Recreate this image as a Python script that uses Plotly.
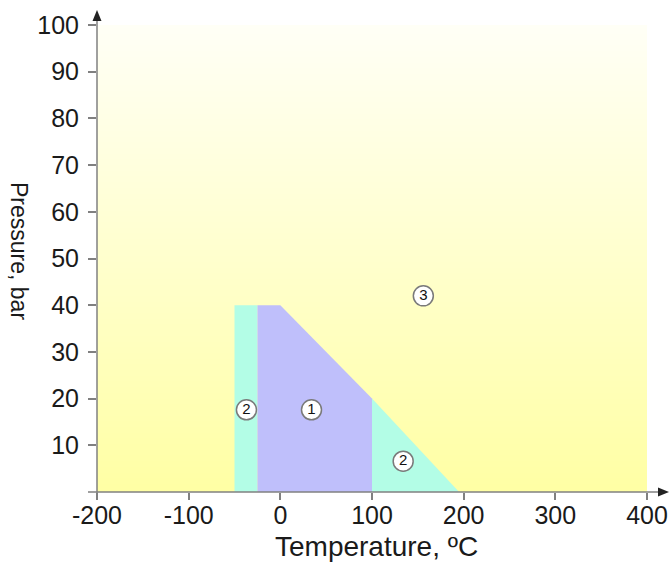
import plotly.graph_objects as go

# ---- data ----
x_ticks = [-200, -100, 0, 100, 200, 300, 400]
x_tick_labels = ["-200", "-100", "0", "100", "200", "300", "400"]
y_ticks = [10, 20, 30, 40, 50, 60, 70, 80, 90, 100]

region2_left_x = [-50, -25, -25, -50]
region2_left_y = [0, 0, 40, 40]

region1_x = [-25, 0, 100, 100, -25]
region1_y = [40, 40, 20, 0, 0]

region2_right_x = [100, 100, 195]
region2_right_y = [0, 20, 0]

label_text = ["2", "1", "2", "3"]
label_x = [-37, 34, 134, 156]
label_y = [17.6, 17.6, 6.6, 42]

x_range = [-200, 400]
y_range = [0, 100]

CYAN = "#b3fde6"
PURPLE = "#bfbffb"
AXIS = "#808080"
FONT = "Liberation Sans, Arial, sans-serif"

fig = go.Figure()

# gradient background
fig.add_trace(go.Heatmap(
    x=x_range, y=y_range, z=[[0, 0], [1, 1]],
    colorscale=[[0, "#ffffa4"], [1, "#fffff6"]],
    zsmooth="best", showscale=False, hoverinfo="skip"))

for xs, ys, col in [(region2_left_x, region2_left_y, CYAN),
                    (region1_x, region1_y, PURPLE),
                    (region2_right_x, region2_right_y, CYAN)]:
    fig.add_trace(go.Scatter(x=xs, y=ys, fill="toself", fillcolor=col,
                             mode="lines", line=dict(width=0, color=col),
                             showlegend=False, hoverinfo="skip"))

fig.add_trace(go.Scatter(
    x=label_x, y=label_y, mode="markers+text", text=label_text,
    textposition="middle center",
    textfont=dict(family=FONT, size=15, color="#111111"),
    marker=dict(symbol="circle", size=20, color="white",
                line=dict(color="#7a7a7a", width=1.5)),
    showlegend=False, hoverinfo="skip"))

W, H = 672, 563
L, T = 97, 25
R = W - 647
B = H - 492
pw, ph = W - L - R, H - T - B
BOTTOM = 492  # pixel row of y=0
LEFT = 97     # pixel column of x=-200

def px(dx):
    return dx / pw

def py(dy):
    return dy / ph

shapes = []
# x axis line + arrow
x_tip = px(669 - LEFT)
shapes.append(dict(type="line", xref="paper", yref="paper",
                   x0=px(-9), x1=x_tip - px(9), y0=0, y1=0,
                   line=dict(color=AXIS, width=1.5)))
shapes.append(dict(type="path", xref="paper", yref="paper",
                   path=f"M{x_tip},0 L{x_tip - px(11)},{py(4.5)} L{x_tip - px(11)},{-py(4.5)} Z",
                   fillcolor="#222222", line=dict(width=0)))
# y axis line + arrow
y_tip = py(BOTTOM - 10)
shapes.append(dict(type="line", xref="paper", yref="paper",
                   x0=0, x1=0, y0=-py(3), y1=y_tip - py(9),
                   line=dict(color=AXIS, width=1.5)))
shapes.append(dict(type="path", xref="paper", yref="paper",
                   path=f"M0,{y_tip} L{-px(4.5)},{y_tip - py(11)} L{px(4.5)},{y_tip - py(11)} Z",
                   fillcolor="#222222", line=dict(width=0)))

fig.update_layout(
    width=W, height=H,
    margin=dict(l=L, r=R, t=T, b=B, pad=0),
    paper_bgcolor="white", plot_bgcolor="white",
    font=dict(family=FONT, color="#1a1a1a"),
    showlegend=False,
    shapes=shapes,
    xaxis=dict(range=x_range, tickvals=x_ticks, ticktext=x_tick_labels,
               ticks="outside", ticklen=7, automargin=False,
               tickwidth=1.5, tickcolor=AXIS, showgrid=False, zeroline=False,
               showline=False, tickfont=dict(size=25, family=FONT),
               ticklabelstandoff=-6, fixedrange=True),
    yaxis=dict(range=y_range, tickvals=y_ticks, ticks="outside", ticklen=8,
               automargin=False,
               tickwidth=1.5, tickcolor=AXIS, showgrid=False, zeroline=False,
               showline=False, tickfont=dict(size=25, family=FONT),
               ticklabelstandoff=4, fixedrange=True),
    annotations=[
        dict(text="Temperature, ºC", xref="paper", yref="paper",
             x=px(376 - LEFT), y=-py(546 - BOTTOM), xanchor="center", yanchor="middle",
             showarrow=False, font=dict(size=28, family=FONT, color="#1a1a1a")),
        dict(text="Pressure, bar", xref="paper", yref="paper",
             x=-px(LEFT - 19), y=py(BOTTOM - 251), xanchor="center", yanchor="middle",
             textangle=90, showarrow=False,
             font=dict(size=23, family=FONT, color="#1a1a1a")),
    ],
)

fig.write_html("out.html", config={"displayModeBar": False},
               post_script="document.body.style.margin='0';")
